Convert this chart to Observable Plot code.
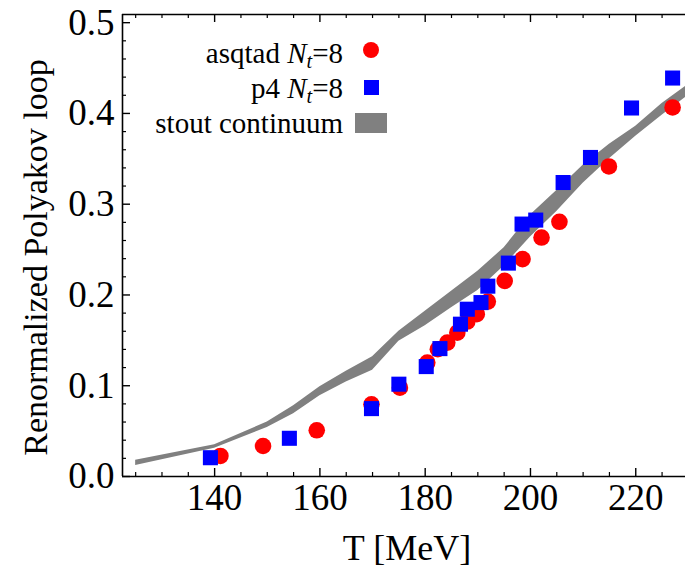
<!DOCTYPE html>
<html>
<head>
<meta charset="utf-8">
<script src="https://cdn.jsdelivr.net/npm/d3@7"></script>
<script src="https://cdn.jsdelivr.net/npm/@observablehq/plot@0.6"></script>
<style>
  html, body { margin: 0; padding: 0; background: #fff; }
  #wrap { position: relative; width: 685px; height: 568px; font-family: "Liberation Serif", "Times New Roman", serif; }
  #chart svg { display: block; }
  #chart svg text { font-family: "Liberation Serif", "Times New Roman", serif !important; font-variant: normal !important; }
  .lg-row { position: absolute; left: 0; width: 343px; height: 36px; line-height: 36px; text-align: right; font-size: 29px; color: #000; white-space: nowrap; }
  .lg-sym { position: absolute; }
  sub { font-size: 0.7em; vertical-align: -0.25em; line-height: 0; }
</style>
</head>
<body>
<div id="wrap">
  <div id="chart"></div>
  <div id="legend"></div>
</div>
<script>
// ---- data ----
const asqtadT = [141.1, 149.2, 159.4, 169.8, 175.2, 180.4, 182.4, 184.2, 186.1, 188.0, 189.8, 191.9, 195.1, 198.5, 202.1, 205.5, 214.9, 227.0];
const asqtadL = [0.0226, 0.0336, 0.0509, 0.0796, 0.0979, 0.1255, 0.1402, 0.1475, 0.1585, 0.1707, 0.1788, 0.1927, 0.2155, 0.2395, 0.2633, 0.2806, 0.3416, 0.4066];

const p4T = [139.2, 154.2, 169.8, 175.0, 180.2, 182.8, 186.7, 188.0, 190.6, 191.9, 195.8, 198.4, 201.0, 206.2, 211.4, 219.2, 227.0];
const p4L = [0.0207, 0.0421, 0.0748, 0.1017, 0.1211, 0.1409, 0.1678, 0.1843, 0.1916, 0.2097, 0.2351, 0.2781, 0.2825, 0.3239, 0.3515, 0.4060, 0.4390];

const stoutT  = [125, 140, 150, 155, 160, 165, 170, 175, 180, 185, 190, 195, 200, 205, 210, 215, 220, 225, 230];
const stoutLo = [0.012, 0.031, 0.054, 0.069, 0.089, 0.104, 0.117, 0.149, 0.166, 0.186, 0.205, 0.232, 0.264, 0.292, 0.323, 0.350, 0.375, 0.398, 0.420];
const stoutHi = [0.018, 0.035, 0.060, 0.078, 0.099, 0.116, 0.132, 0.160, 0.182, 0.204, 0.226, 0.252, 0.288, 0.315, 0.343, 0.366, 0.386, 0.411, 0.432];

const xMajor = [140, 160, 180, 200, 220];
const xMinor = [125, 130, 135, 145, 150, 155, 165, 170, 175, 185, 190, 195, 205, 210, 215, 225];
const yMajor = [0, 0.1, 0.2, 0.3, 0.4, 0.5];
const yMinor = [0.02, 0.04, 0.06, 0.08, 0.12, 0.14, 0.16, 0.18, 0.22, 0.24, 0.26, 0.28, 0.32, 0.34, 0.36, 0.38, 0.42, 0.44, 0.46, 0.48];

const xDomain = [122.5, 229.45];
const yDomain = [0, 0.509];
const xTitle = "T [MeV]";
const yTitle = "Renormalized Polyakov loop";

// ---- tables ----
const asqtad = asqtadT.map((t, i) => ({T: t, L: asqtadL[i]}));
const p4 = p4T.map((t, i) => ({T: t, L: p4L[i]}));
const stout = stoutT.map((t, i) => ({T: t, lo: stoutLo[i], hi: stoutHi[i]}));

const W = 685, H = 568;
const mL = 122, mR = 0, mT = 14, mB = 92;
const frameH = H - mT - mB;
const serif = '"Liberation Serif", "Times New Roman", serif';

const chart = Plot.plot({
  width: W, height: H,
  marginLeft: mL, marginRight: mR, marginTop: mT, marginBottom: mB,
  style: {fontFamily: serif, background: "#fff", color: "#000"},
  x: {domain: xDomain},
  y: {domain: yDomain},
  marks: [
    Plot.areaY(stout, {x: "T", y1: "lo", y2: "hi", fill: "#808080", clip: true}),
    Plot.dot(asqtad, {x: "T", y: "L", r: 8.3, fill: "#ff0000", stroke: "none"}),
    Plot.dot(p4, {x: "T", y: "L", r: 8.5, symbol: "square", fill: "#0000ff", stroke: "none"}),
    // frame lines
    Plot.ruleX([xDomain[0]], {stroke: "#000", strokeWidth: 1.6}),
    Plot.ruleY([yDomain[0]], {stroke: "#000", strokeWidth: 1.6}),
    Plot.ruleY([yDomain[1]], {stroke: "#000", strokeWidth: 1.6}),
    // inward ticks: bottom
    Plot.tickX(xMajor, {x: d => d, insetTop: frameH - 8, stroke: "#000", strokeWidth: 1.4}),
    Plot.tickX(xMinor, {x: d => d, insetTop: frameH - 4, stroke: "#000", strokeWidth: 1.2}),
    // top
    Plot.tickX(xMajor, {x: d => d, insetBottom: frameH - 8, stroke: "#000", strokeWidth: 1.4}),
    Plot.tickX(xMinor, {x: d => d, insetBottom: frameH - 4, stroke: "#000", strokeWidth: 1.2}),
    // left
    Plot.tickY(yMajor, {y: d => d, insetRight: (W - mL - mR) - 8, stroke: "#000", strokeWidth: 1.4}),
    Plot.tickY(yMinor, {y: d => d, insetRight: (W - mL - mR) - 4, stroke: "#000", strokeWidth: 1.2}),
    // axes labels
    Plot.axisX({ticks: xMajor, tickSize: 0, tickPadding: 7, fontSize: 37, fontFamily: serif, label: null, tickFormat: d3.format("d")}),
    Plot.axisY({ticks: yMajor, tickSize: 0, tickPadding: 8, fontSize: 37, fontFamily: serif, label: null, tickFormat: d3.format(".1f"), dy: 0}),
    Plot.text([xTitle], {text: d => d, frameAnchor: "bottom", textAnchor: "middle", dy: 72, dx: 3, lineAnchor: "middle", fontSize: 36, fontFamily: serif, fill: "#000"}),
    Plot.text([yTitle], {text: d => d, frameAnchor: "left", textAnchor: "middle", rotate: -90, dx: -86, dy: 12, lineAnchor: "middle", fontSize: 34, fontFamily: serif, fill: "#000"})
  ]
});
d3.select(chart).selectAll("text, g").attr("font-family", serif).attr("font-variant", null);
document.getElementById("chart").appendChild(chart);

// ---- legend (inside plot, top-left) ----
const legendItems = [
  {html: 'asqtad <i>N</i><sub><i>t</i></sub>=8', cy: 53, kind: "circle", color: "#ff0000"},
  {html: 'p4 <i>N</i><sub><i>t</i></sub>=8', cy: 88, kind: "square", color: "#0000ff"},
  {html: 'stout continuum', cy: 123, kind: "band", color: "#808080"}
];
const lg = document.getElementById("legend");
for (const it of legendItems) {
  const row = document.createElement("div");
  row.className = "lg-row";
  row.style.top = (it.cy - 18) + "px";
  row.innerHTML = it.html;
  lg.appendChild(row);
  const s = document.createElement("div");
  s.className = "lg-sym";
  s.style.background = it.color;
  if (it.kind === "circle") {
    s.style.left = (371 - 8.3) + "px"; s.style.top = (it.cy - 3 - 8.3) + "px";
    s.style.width = "16.6px"; s.style.height = "16.6px"; s.style.borderRadius = "50%";
  } else if (it.kind === "square") {
    s.style.left = (371 - 7.5) + "px"; s.style.top = (it.cy - 1 - 7.5) + "px";
    s.style.width = "15px"; s.style.height = "15px";
  } else {
    s.style.left = "355px"; s.style.top = "113px";
    s.style.width = "32px"; s.style.height = "20px";
  }
  lg.appendChild(s);
}
</script>
</body>
</html>
